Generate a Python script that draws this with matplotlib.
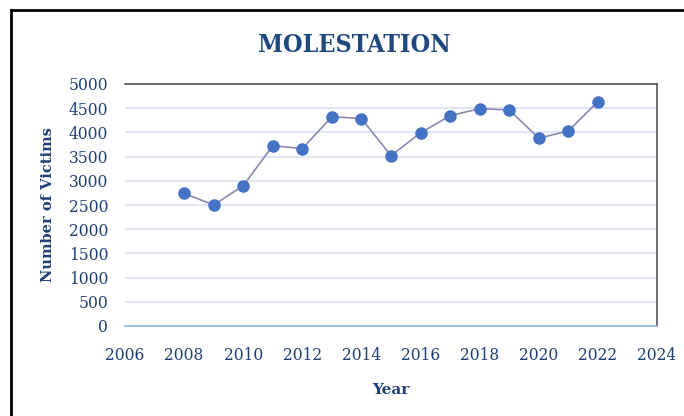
import matplotlib
matplotlib.use("Agg")
import matplotlib.pyplot as plt
from matplotlib.lines import Line2D

years = [2008, 2009, 2010, 2011, 2012, 2013, 2014, 2015, 2016, 2017, 2018, 2019, 2020, 2021, 2022]
victims = [2740, 2500, 2900, 3725, 3665, 4325, 4285, 3520, 3990, 4345, 4490, 4465, 3880, 4030, 4635]
x_ticks = list(range(2006, 2025, 2))
y_ticks = list(range(0, 5001, 500))

navy = "#1F3F73"
fig = plt.figure(figsize=(6.84, 4.16), dpi=100)
ax = fig.add_axes([125/684, 1-326/416, (657-125)/684, (326-84)/416])

ax.plot(years, victims, color="#8A88B0", lw=1.2, zorder=3,
        marker="o", markersize=8, markerfacecolor="#4472C4", markeredgecolor="#4472C4")

ax.set_xlim(2006, 2024)
ax.set_ylim(0, 5000)
ax.set_xticks(x_ticks)
ax.set_yticks(y_ticks)
ax.grid(axis="y", color="#D9E2F1", lw=1.2)
ax.set_axisbelow(True)

for s in ["top", "right"]:
    ax.spines[s].set_color("#555555")
    ax.spines[s].set_linewidth(1.2)
ax.spines["left"].set_visible(False)
ax.spines["bottom"].set_color("#8EB4E3")
ax.spines["bottom"].set_linewidth(1.2)
ax.tick_params(length=0, labelcolor=navy)
ax.tick_params(axis="y", pad=12)
ax.tick_params(axis="x", pad=15)
for lab in ax.get_xticklabels() + ax.get_yticklabels():
    lab.set_family("DejaVu Serif")
    lab.set_fontsize(11.2)

ax.set_xlabel("Year", family="DejaVu Serif", fontsize=11, fontweight="bold", color=navy, labelpad=14)
ax.set_ylabel("Number of Victims", family="DejaVu Serif", fontsize=10.5, fontweight="bold", color=navy, labelpad=10)

fig.text(354/684, 1-45/416, "MOLESTATION", ha="center", va="center", family="DejaVu Serif",
         fontsize=18, fontweight="bold", color="#1F497D", fontstretch="condensed")

fig.add_artist(Line2D([10.5/684, 10.5/684], [0, 1-10/416], transform=fig.transFigure, color="black", lw=2))
fig.add_artist(Line2D([10.5/684, 1], [1-10/416, 1-10/416], transform=fig.transFigure, color="black", lw=2))

fig.savefig("out.png", dpi=100)
